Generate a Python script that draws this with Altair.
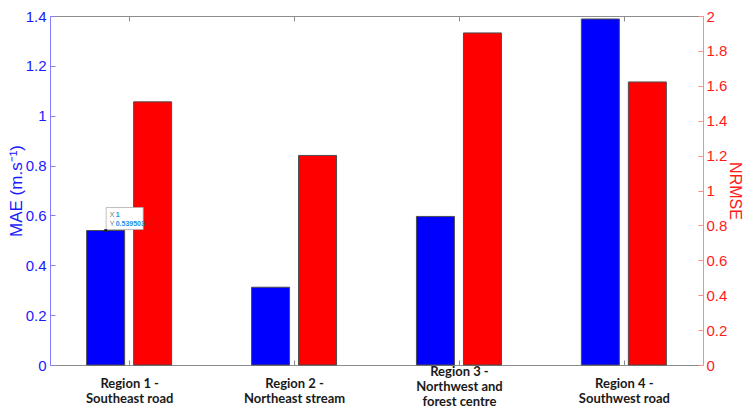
import altair as alt
import pandas as pd

# ---- data ----
regions = [
    "Region 1 -|Southeast road",
    "Region 2 -|Northeast stream",
    "Region 3 -|Northwest and|forest centre",
    "Region 4 -|Southwest road",
]
mae = [0.539503, 0.312, 0.596, 1.388]
nrmse = [1.508, 1.201, 1.903, 1.622]
mae_ticks = [0, 0.2, 0.4, 0.6, 0.8, 1.0, 1.2, 1.4]
nrmse_ticks = [0, 0.2, 0.4, 0.6, 0.8, 1.0, 1.2, 1.4, 1.6, 1.8, 2.0]
tip_x = ["1", "", "", ""]  # data tip shown on Region 1 MAE bar

df = pd.DataFrame({"region": regions, "mae": mae, "nrmse": nrmse, "tipx": tip_x})

BLUE_TXT = "#1a1aff"
BLUE_AX = "#8080ff"
RED_TXT = "#ff1a1a"
RED_AX = "#ff8c8c"
GRAY = "#8c8c8c"
NEG_TICK = {"expr": "-5"}

x_scale = alt.Scale(type="point", padding=0.48)
mae_scale = alt.Scale(domain=[0, 1.4], nice=False, zero=True)
nrmse_scale = alt.Scale(domain=[0, 2], nice=False, zero=True)

x_bottom = alt.X(
    "region:N", sort=regions, scale=x_scale,
    axis=alt.Axis(
        title=None, labelExpr="split(datum.label, '|')",
        labelFont="Lato", labelFontWeight="bold", labelFontSize=13,
        labelColor="#1a1a1a", labelLineHeight=15, labelAngle=0,
        labelOverlap=False,
        labelPadding={"condition": {"test": "indexof(datum.value, 'Region 3') == 0", "value": 5},
                      "value": 17},
        domainColor=GRAY, tickColor=GRAY, tickSize=NEG_TICK, domainWidth=1.2,
    ),
)
x_top = alt.X(
    "region:N", sort=regions, scale=x_scale,
    axis=alt.Axis(
        orient="top", title=None, labels=False,
        domainColor=GRAY, tickColor=GRAY, tickSize=NEG_TICK, domainWidth=1.2,
    ),
)
y_left = alt.Y(
    "mae:Q", scale=mae_scale,
    axis=alt.Axis(
        orient="left", values=mae_ticks, format="~g", grid=False,
        title="MAE (m.s⁻¹)", titleFont="Liberation Sans", titleFontSize=17,
        titleFontWeight="normal", titleColor=BLUE_TXT, titlePadding=0,
        labelFont="Liberation Sans", labelFontSize=15, labelColor=BLUE_TXT,
        labelPadding=9, domainColor=BLUE_AX, tickColor=BLUE_AX, tickSize=NEG_TICK,
    ),
)
y_right = alt.Y(
    "nrmse:Q", scale=nrmse_scale,
    axis=alt.Axis(
        orient="right", values=nrmse_ticks, format="~g", grid=False,
        title="NRMSE", titleFont="Liberation Sans", titleFontSize=16,
        titleFontWeight="normal", titleColor=RED_TXT, titlePadding=0,
        labelFont="Liberation Sans", labelFontSize=15, labelColor=RED_TXT,
        labelPadding=8, domainColor=RED_AX, tickColor=RED_AX, tickSize=NEG_TICK,
    ),
)

blue_bars = alt.Chart(df).mark_bar(
    color="#0000ff", stroke="#4d4d4d", strokeWidth=1, width=38, xOffset=-23.5
).encode(x=x_bottom, y=y_left)

red_bars = alt.Chart(df).mark_bar(
    color="#ff0000", stroke="#4d4d4d", strokeWidth=1, width=38, xOffset=23.5
).encode(x=x_top, y=y_right)

# data tip (drawn on top of both bar layers)
tip = alt.Chart(df).transform_filter("datum.tipx != ''").encode(
    x=alt.X("region:N", sort=regions, scale=x_scale, axis=None),
    y=alt.Y("mae:Q", scale=mae_scale, axis=None),
)
tip_box = tip.mark_point(
    shape="M-1,-0.5946H1V0.5946H-1Z", size=1369, filled=True, fill="white",
    stroke="#b0b0b0", strokeWidth=0.8, opacity=1, xOffset=-4.5, yOffset=-12,
)
tip_dot = tip.mark_point(
    shape="square", size=8, filled=True, color="#222222", opacity=1, xOffset=-23.5
)
tip_xl = tip.mark_text(text="X", align="left", baseline="middle", fontSize=7,
                       font="Liberation Sans", color="#777777",
                       xOffset=-19.5, yOffset=-15.3)
tip_yl = tip.mark_text(text="Y", align="left", baseline="middle", fontSize=7,
                       font="Liberation Sans", color="#777777",
                       xOffset=-19.5, yOffset=-7)
tip_xv = tip.mark_text(align="left", baseline="middle", fontSize=7,
                       font="Liberation Sans", fontWeight="bold", color="#1a8fe8",
                       xOffset=-13.5, yOffset=-15.3).encode(text="tipx:N")
tip_yv = tip.mark_text(align="left", baseline="middle", fontSize=7,
                       font="Liberation Sans", fontWeight="bold", color="#1a8fe8",
                       xOffset=-13.5, yOffset=-7).encode(text=alt.Text("mae:Q", format=".6f"))
tip_group = alt.layer(tip_box, tip_dot, tip_xl, tip_yl, tip_xv, tip_yv)

chart = (
    alt.layer(blue_bars, red_bars, tip_group)
    .resolve_scale(y="independent")
    .resolve_axis(x="independent")
    .properties(
        width=653, height=349,
        padding={"left": 42, "top": 8, "right": 43, "bottom": 42},
        autosize=alt.AutoSizeParams(type="none"),
        background="white",
    )
    .configure_view(stroke=None)
)

chart.save("out.html", embed_options={"renderer": "svg", "actions": False})
